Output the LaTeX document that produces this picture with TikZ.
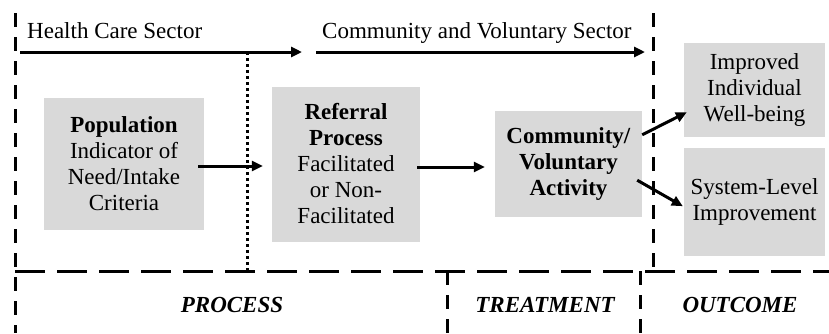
\documentclass[tikz,border=0pt]{standalone}
\usepackage{fontspec}
\setmainfont{Liberation Serif}
\usetikzlibrary{arrows.meta, positioning, calc}
\definecolor{boxgray}{RGB}{217, 217, 217}

\begin{document}
\begin{tikzpicture}[
    x=1pt, y=-1pt,
    arrow/.style={-{Triangle[length=11pt, width=10pt]}, line width=3pt},
    framev/.style={line width=3pt, dash pattern=on 14pt off 10pt},
    frameh/.style={line width=3pt, dash pattern=on 30pt off 12pt},
    divider/.style={line width=3pt, dash pattern=on 3pt off 3pt},
    stagebox/.style={rectangle, fill=boxgray, inner sep=0pt, align=center,
        font=\fontsize{23}{26}\selectfont},
    sectorlabel/.style={font=\fontsize{23}{26}\selectfont, anchor=base west, inner sep=0pt},
    phaselabel/.style={font=\fontsize{23}{26}\selectfont\bfseries\itshape}
]

\useasboundingbox (0,0) rectangle (829,333);

% === Frame coordinates ===
\coordinate (frameTL) at (15,13);
\coordinate (frameBL) at (15,333);
\coordinate (splitTop) at (653,13);
\coordinate (splitMid) at (653,271);
\coordinate (baseL) at (15,271);
\coordinate (baseR) at (829,271);
\coordinate (treatTop) at (447,271);
\coordinate (treatBot) at (447,333);
\coordinate (outTop) at (640,271);
\coordinate (outBot) at (640,333);

% === Sector arrows ===
\coordinate (hcStart) at (20,52);
\coordinate (hcEnd) at (302,52);
\coordinate (cvStart) at (316,52);
\coordinate (cvEnd) at (645,52);
\coordinate (divTop) at (247,52);
\coordinate (divBot) at (247,271);

\node[sectorlabel] (hcLabel) at (27,38) {Health Care Sector};
\node[sectorlabel] (cvLabel) at (322,38) {Community and Voluntary Sector};

\draw[arrow] (hcStart) -- (hcEnd);
\draw[arrow] (cvStart) -- (cvEnd);
\draw[divider] (divTop) -- (divBot);

% === Stage boxes ===
\node[stagebox, minimum width=160pt, minimum height=132pt] (pop) at (124,164)
    {\textbf{Population}\\Indicator of\\Need/Intake\\Criteria};
\node[stagebox, minimum width=148pt, minimum height=155pt] (ref) at (346,164)
    {\textbf{Referral}\\\textbf{Process}\\Facilitated\\or Non-\\Facilitated};
\node[stagebox, minimum width=147pt, minimum height=106pt] (comm) at (568.5,164)
    {\textbf{Community/}\\\textbf{Voluntary}\\\textbf{Activity}};
\node[stagebox, minimum width=141pt, minimum height=94pt] (imp) at (754.5,90)
    {Improved\\Individual\\Well-being};
\node[stagebox, minimum width=141pt, minimum height=108pt] (sys) at (754.5,202)
    {System-Level\\Improvement};

% === Frame lines ===
\draw[framev] (frameTL) -- (frameBL);
\draw[framev] (splitTop) -- (splitMid);
\draw[frameh] (baseL) -- (baseR);
\draw[framev] (treatTop) -- (treatBot);
\draw[framev] (outTop) -- (outBot);

% === Flow arrows ===
\draw[arrow] ([shift={(-6,2)}]pop.east) -- ([shift={(-9,2)}]ref.west);
\draw[arrow] ([shift={(-3,3)}]ref.east) -- ([shift={(-10,3)}]comm.west);
\draw[arrow] ([shift={(0,24)}]comm.north east) -- ([shift={(3,-25)}]imp.south west);
\draw[arrow] ([shift={(-5,-37)}]comm.south east) -- ([shift={(-1,-50)}]sys.south west);

% === Phase labels ===
\node[phaselabel] (procLabel) at (232,305) {PROCESS};
\node[phaselabel] (treatLabel) at (545,305) {TREATMENT};
\node[phaselabel] (outLabel) at (740,305) {OUTCOME};

\end{tikzpicture}
\end{document}
